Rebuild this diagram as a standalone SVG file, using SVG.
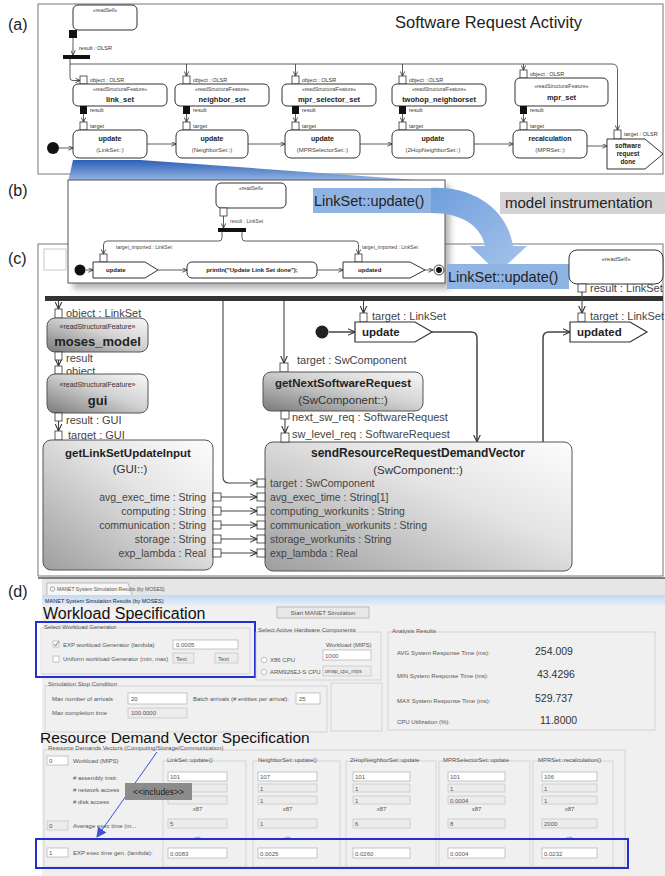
<svg xmlns="http://www.w3.org/2000/svg" width="665" height="876" viewBox="0 0 665 876">
<defs>
<style>
text{font-family:"Liberation Sans",Arial,sans-serif;fill:#222}
.pl{font-size:16px}
.s5{font-size:5px;fill:#444}
.s55{font-size:5.5px;fill:#333}
.b7{font-size:7px;font-weight:bold}
.s6{font-size:6px;fill:#444}
.c11{font-size:11px;fill:#444}
.cb{font-size:11.5px;font-weight:bold;fill:#222}
.cn{font-size:11.5px;fill:#333}
.pin{fill:#fff;stroke:#333;stroke-width:.8}
.pinb{fill:#111}
.nd{fill:#fff;stroke:#333;stroke-width:1}
.gn{fill:url(#gN);stroke:#555;stroke-width:1}
.fl{fill:none;stroke:#333;stroke-width:.8}
.fc{fill:none;stroke:#444;stroke-width:1.1}
.t6{font-size:6px;fill:#555}
.fw{fill:#fff;stroke:#b0b0b0;stroke-width:.7}
.fg{fill:#ececec;stroke:#c4c4c4;stroke-width:.7}
.gb{fill:none;stroke:#cdcdcd;stroke-width:.8}
.mid{text-anchor:middle}
.end{text-anchor:end}
</style>
<marker id="as" viewBox="0 0 6 6" refX="5.5" refY="3" markerWidth="5" markerHeight="5" orient="auto" markerUnits="userSpaceOnUse"><path d="M0,0.3 L5.6,3 L0,5.7" fill="none" stroke="#333" stroke-width="1"/></marker>
<marker id="av" viewBox="0 0 8 8" refX="7.5" refY="4" markerWidth="8" markerHeight="8" orient="auto" markerUnits="userSpaceOnUse"><path d="M0,0.5 L7.5,4 L0,7.5" fill="none" stroke="#333" stroke-width="1.1"/></marker>
<marker id="ab" viewBox="0 0 10 10" refX="9" refY="5" markerWidth="10" markerHeight="10" orient="auto" markerUnits="userSpaceOnUse"><path d="M0,0 L10,5 L0,10 Z" fill="#3f4fd6"/></marker>
<linearGradient id="gN" x1="0" y1="1" x2="1" y2="0"><stop offset="0" stop-color="#7a7a7a"/><stop offset="0.55" stop-color="#d2d2d2"/><stop offset="1" stop-color="#f8f8f8"/></linearGradient>
<linearGradient id="gS" x1="0" y1="1" x2="1" y2="0"><stop offset="0" stop-color="#9e9e9e"/><stop offset="0.6" stop-color="#e4e4e4"/><stop offset="1" stop-color="#fdfdfd"/></linearGradient>
<linearGradient id="gW" x1="0" y1="0" x2="0" y2="1"><stop offset="0" stop-color="#2b5fb5"/><stop offset="1" stop-color="#9dbbe6"/></linearGradient>
<linearGradient id="gA" x1="0" y1="0" x2="1" y2="1"><stop offset="0" stop-color="#6f9fdc"/><stop offset="1" stop-color="#a7c4ec"/></linearGradient>
<linearGradient id="gT" x1="0" y1="0" x2="0" y2="1"><stop offset="0" stop-color="#c3d9f0"/><stop offset="1" stop-color="#e6f0fa"/></linearGradient>
<filter id="sh" x="-10%" y="-10%" width="130%" height="140%"><feGaussianBlur stdDeviation="3"/></filter>
</defs>

<rect width="665" height="876" fill="#fff"/>

<!-- panel labels -->
<text class="pl" x="8" y="30">(a)</text>
<text class="pl" x="8" y="196">(b)</text>
<text class="pl" x="8" y="264">(c)</text>
<text class="pl" x="8" y="597">(d)</text>

<!-- ============ (a) ============ -->
<g id="a-frame">
<rect x="38" y="4" width="625" height="170" fill="#fff" stroke="#777" stroke-width="1"/>
<text x="395" y="28" style="font-size:16.5px">Software Request Activity</text>
</g>

<g id="a-connectors">
<path class="fl" d="M73,38 V55" marker-end="url(#as)"/>
<path class="fl" d="M70,59 V78 Q70,80.5 73,80.5 H80" marker-end="url(#as)"/>
<path class="fl" d="M70,64 H612 Q617.5,64 617.5,69.5 V130" marker-end="url(#as)"/>
<path class="fl" d="M186.5,64 V76" marker-end="url(#as)"/>
<path class="fl" d="M295.5,64 V76" marker-end="url(#as)"/>
<path class="fl" d="M402.5,64 V76" marker-end="url(#as)"/>
<path class="fl" d="M523.5,64 V70" marker-end="url(#as)"/>
<path class="fl" d="M83.5,114 V122" marker-end="url(#as)"/>
<path class="fl" d="M186.5,114 V122" marker-end="url(#as)"/>
<path class="fl" d="M295.5,114 V122" marker-end="url(#as)"/>
<path class="fl" d="M402.5,114 V122" marker-end="url(#as)"/>
<path class="fl" d="M523.5,114 V122" marker-end="url(#as)"/>
<path class="fl" d="M59,148 H73" marker-end="url(#as)"/>
<path class="fl" d="M147,144 H176" marker-end="url(#as)"/>
<path class="fl" d="M248,144 H285" marker-end="url(#as)"/>
<path class="fl" d="M360,144 H392" marker-end="url(#as)"/>
<path class="fl" d="M474,144 H513" marker-end="url(#as)"/>
<path class="fl" d="M587,146 H607" marker-end="url(#as)"/>
</g>

<g id="a-readSelf">
<rect class="nd" x="73" y="5" width="64" height="25" rx="5"/>
<text class="s5 mid" x="105" y="12">«readSelf»</text>
<rect class="pinb" x="69" y="30" width="8" height="8"/>
<text class="s55" x="79" y="50">result : OLSR</text>
<rect x="63" y="55" width="27" height="4" fill="#111"/>
</g>

<g id="a-link_set">
<rect class="pin" x="80" y="76" width="7" height="8"/><text class="s55" x="90" y="82">object : OLSR</text>
<rect class="nd" x="73" y="84" width="94" height="22" rx="5"/>
<text class="s5 mid" x="120" y="91">«readStructuralFeature»</text>
<text class="b7 mid" x="120" y="102" style="font-size:7.5px">link_set</text>
<rect class="pinb" x="80" y="106" width="7" height="8"/><text class="s55" x="90" y="112">result</text>
</g>
<g id="a-neighbor_set">
<rect class="pin" x="183" y="76" width="7" height="8"/><text class="s55" x="193" y="82">object : OLSR</text>
<rect class="nd" x="175" y="84" width="94" height="22" rx="5"/>
<text class="s5 mid" x="222" y="91">«readStructuralFeature»</text>
<text class="b7 mid" x="222" y="102" style="font-size:7.5px">neighbor_set</text>
<rect class="pinb" x="183" y="106" width="7" height="8"/><text class="s55" x="193" y="112">result</text>
</g>
<g id="a-mpr_selector_set">
<rect class="pin" x="292" y="76" width="7" height="8"/><text class="s55" x="302" y="82">object : OLSR</text>
<rect class="nd" x="282" y="84" width="94" height="22" rx="5"/>
<text class="s5 mid" x="329" y="91">«readStructuralFeature»</text>
<text class="b7 mid" x="329" y="102" style="font-size:7.5px">mpr_selector_set</text>
<rect class="pinb" x="292" y="106" width="7" height="8"/><text class="s55" x="302" y="112">result</text>
</g>
<g id="a-twohop_neighborset">
<rect class="pin" x="399" y="76" width="7" height="8"/><text class="s55" x="409" y="82">object : OLSR</text>
<rect class="nd" x="392" y="84" width="94" height="22" rx="5"/>
<text class="s5 mid" x="439" y="91">«readStructuralFeature»</text>
<text class="b7 mid" x="439" y="102" style="font-size:7.5px">twohop_neighborset</text>
<rect class="pinb" x="399" y="106" width="7" height="8"/><text class="s55" x="409" y="112">result</text>
</g>
<g id="a-mpr_set">
<rect class="pin" x="520" y="70" width="7" height="8"/><text class="s55" x="530" y="76">object : OLSR</text>
<rect class="nd" x="515" y="78" width="93" height="28" rx="5"/>
<text class="s5 mid" x="561.5" y="88">«readStructuralFeature»</text>
<text class="b7 mid" x="561.5" y="100" style="font-size:7.5px">mpr_set</text>
<rect class="pinb" x="520" y="106" width="7" height="8"/><text class="s55" x="530" y="112">result</text>
</g>

<circle cx="53" cy="148" r="6" fill="#111"/>
<g id="a-update-linkset">
<rect class="pin" x="80" y="122" width="7" height="8"/><text class="s55" x="90" y="128">target</text>
<rect class="nd" x="73" y="130" width="74" height="28" rx="6"/>
<text class="b7 mid" x="110" y="141">update</text><text class="s6 mid" x="110" y="152">(LinkSet::)</text>
</g>
<g id="a-update-neighborset">
<rect class="pin" x="183" y="122" width="7" height="8"/><text class="s55" x="193" y="128">target</text>
<rect class="nd" x="176" y="130" width="72" height="28" rx="6"/>
<text class="b7 mid" x="212" y="141">update</text><text class="s6 mid" x="212" y="152">(NeighborSet::)</text>
</g>
<g id="a-update-mprselectorset">
<rect class="pin" x="292" y="122" width="7" height="8"/><text class="s55" x="302" y="128">target</text>
<rect class="nd" x="285" y="130" width="75" height="28" rx="6"/>
<text class="b7 mid" x="322.5" y="141">update</text><text class="s6 mid" x="322.5" y="152">(MPRSelectorSet::)</text>
</g>
<g id="a-update-2hop">
<rect class="pin" x="399" y="122" width="7" height="8"/><text class="s55" x="409" y="128">target</text>
<rect class="nd" x="392" y="130" width="82" height="28" rx="6"/>
<text class="b7 mid" x="433" y="141">update</text><text class="s6 mid" x="433" y="152">(2HopNeighborSet::)</text>
</g>
<g id="a-recalculation">
<rect class="pin" x="520" y="122" width="7" height="8"/><text class="s55" x="530" y="128">target</text>
<rect class="nd" x="513" y="130" width="74" height="28" rx="6"/>
<text class="b7 mid" x="550" y="141">recalculation</text><text class="s6 mid" x="550" y="152">(MPRSet::)</text>
</g>
<g id="a-software-request-done">
<rect class="pin" x="614" y="130" width="7" height="9"/><text class="s55" x="624" y="136">target : OLSR</text>
<path class="nd" d="M607,139 H645 L663,154 L645,169 H607 Z"/>
<text class="b7 mid" x="628" y="148" style="font-size:6.3px">software</text>
<text class="b7 mid" x="628" y="156" style="font-size:6.3px">request</text>
<text class="b7 mid" x="628" y="164" style="font-size:6.3px">done</text>
</g>

<!-- ============ (c) frame ============ -->
<g id="c-frame">
<rect x="38" y="244" width="625" height="332" fill="#fff" stroke="#777" stroke-width="1"/>
<rect x="44" y="249" width="22" height="21" fill="#fff" stroke="#bbb" stroke-width=".8"/>
</g>

<!-- ============ (b) ============ -->
<polygon points="73,160 140,160 445,182 68,182" fill="url(#gW)"/>
<g id="b-box">
<rect x="73" y="186" width="377" height="103" fill="#777" opacity=".55" filter="url(#sh)"/>
<rect x="68" y="180" width="377" height="103" fill="#fff" stroke="#555" stroke-width="1"/>
</g>
<g id="b-connectors">
<path class="fl" d="M223.5,216 V228" marker-end="url(#as)"/>
<path class="fl" d="M222,232 V238 Q222,241 219,241 H107 Q103.5,241 103.5,245 V254" marker-end="url(#as)"/>
<path class="fl" d="M242,232 V238 Q242,241 245,241 H355 Q358.5,241 358.5,245 V254" marker-end="url(#as)"/>
<path class="fl" d="M86,270 H93" marker-end="url(#as)"/>
<path class="fl" d="M158,270 H187" marker-end="url(#as)"/>
<path class="fl" d="M317,270 H343" marker-end="url(#as)"/>
<path class="fl" d="M425,270 H433" marker-end="url(#as)"/>
</g>
<g id="b-readSelf">
<rect class="nd" x="216" y="183" width="70" height="25" rx="5"/>
<text class="s5 mid" x="251" y="190">«readSelf»</text>
<rect class="pin" x="220" y="208" width="7" height="8"/>
<text class="s5" x="230" y="223">result : LinkSet</text>
<rect x="218" y="228" width="28" height="4" fill="#111"/>
</g>
<circle cx="80" cy="270" r="5.5" fill="#111"/>
<g id="b-update">
<rect class="pin" x="100" y="254" width="7" height="8"/>
<text class="s5" x="116" y="249">target_imported : LinkSet</text>
<path class="nd" d="M93,262 H145 L158,270 L145,278 H93 Z"/>
<text class="b7" x="106" y="272" style="font-size:6px">update</text>
</g>
<g id="b-println">
<rect class="nd" x="187" y="262" width="130" height="16" rx="5"/>
<text class="b7 mid" x="252" y="272" style="font-size:6px">println("Update Link Set done");</text>
</g>
<g id="b-updated">
<rect class="pin" x="355" y="254" width="7" height="8"/>
<text class="s5" x="362" y="249">target_imported : LinkSet</text>
<path class="nd" d="M343,262 H410 L425,270 L410,278 H343 Z"/>
<text class="b7" x="358" y="272" style="font-size:6px">updated</text>
</g>
<g id="b-final">
<circle cx="439" cy="270" r="5" fill="#fff" stroke="#333" stroke-width=".9"/>
<circle cx="439" cy="270" r="3" fill="#111"/>
</g>

<!-- instrumentation arrow and labels -->
<g id="b-instrumentation">
<rect x="313" y="188" width="118" height="25" fill="#8fb4e3"/>
<text x="314" y="206" style="font-size:14.5px">LinkSet::update()</text>
<path d="M431,188 C472,186 507,208 513,246 L527,246 L498,273 L470,246 L485,246 C481,226 462,213 431,213 Z" fill="url(#gA)"/>
<rect x="500" y="192" width="165" height="22" fill="#d3d3d3"/>
<text x="505" y="208" style="font-size:15px">model instrumentation</text>
<rect x="447" y="264" width="122" height="25" fill="#8fb4e3"/>
<text x="448" y="282" style="font-size:14.5px">LinkSet::update()</text>
</g>

<!-- ============ (c) content ============ -->
<rect x="45" y="296" width="618" height="5" fill="#333"/>

<g id="c-connectors">
<path class="fc" d="M58.5,301 V309" marker-end="url(#av)"/>
<path class="fc" d="M58.5,360 V366" marker-end="url(#av)"/>
<path class="fc" d="M58.5,421 V431" marker-end="url(#av)"/>
<path class="fc" d="M223,301 V477 Q223,483 229,483 H257" marker-end="url(#av)"/>
<path class="fc" d="M284,301 V363" marker-end="url(#av)"/>
<path class="fc" d="M363.5,301 V313" marker-end="url(#av)"/>
<path class="fc" d="M582,292 V313" marker-end="url(#av)"/>
<path class="fc" d="M329,332 H355" marker-end="url(#av)" style="stroke-width:1.5"/>
<path class="fc" d="M432,332 H471 Q477,332 477,338 V442" marker-end="url(#av)" style="stroke-width:1.5"/>
<path class="fc" d="M543,442 V338 Q543,332 549,332 H570" marker-end="url(#av)" style="stroke-width:1.5"/>
<path class="fc" d="M285,419 V433" marker-end="url(#av)"/>
<path class="fc" d="M221,497 H257" marker-end="url(#av)"/>
<path class="fc" d="M221,511 H257" marker-end="url(#av)"/>
<path class="fc" d="M221,525 H257" marker-end="url(#av)"/>
<path class="fc" d="M221,539 H257" marker-end="url(#av)"/>
<path class="fc" d="M221,553 H257" marker-end="url(#av)"/>
</g>

<g id="c-readSelf">
<rect class="nd" x="569" y="250" width="94" height="34" rx="8"/>
<text class="s6 mid" x="616" y="261">«readSelf»</text>
<rect class="pin" x="578" y="284" width="8" height="8"/>
<text class="c11" x="590" y="292">result : LinkSet</text>
</g>

<g id="c-moses_model">
<rect class="pin" x="55" y="309" width="7" height="9"/>
<text class="c11" x="66" y="317">object : LinkSet</text>
<rect class="gn" x="47" y="318" width="101" height="34" rx="8"/>
<text class="mid" x="97.5" y="329" style="font-size:7px;fill:#333">«readStructuralFeature»</text>
<text class="mid" x="97.5" y="346" style="font-size:13px;font-weight:bold">moses_model</text>
<rect class="pin" x="55" y="352" width="7" height="8"/>
<text class="c11" x="66" y="362">result</text>
</g>
<g id="c-gui">
<rect class="pin" x="55" y="366" width="7" height="8"/>
<text class="c11" x="66" y="375">object</text>
<rect class="gn" x="47" y="374" width="101" height="39" rx="8"/>
<text class="mid" x="97.5" y="387" style="font-size:7px;fill:#333">«readStructuralFeature»</text>
<text class="mid" x="97.5" y="405" style="font-size:13px;font-weight:bold">gui</text>
<rect class="pin" x="55" y="413" width="7" height="8"/>
<text class="c11" x="66" y="424">result : GUI</text>
</g>
<g id="c-getLinkSetUpdateInput">
<rect class="pin" x="55" y="431" width="7" height="9"/>
<text class="c11" x="68" y="439">target : GUI</text>
<rect x="43" y="440" width="170" height="130" rx="8" fill="url(#gS)" stroke="#555" stroke-width="1"/>
<text class="cb mid" x="128" y="457">getLinkSetUpdateInput</text>
<text class="cn mid" x="130" y="473">(GUI::)</text>
<text class="c11 end" x="206" y="501" style="font-size:10.5px">avg_exec_time : String</text>
<text class="c11 end" x="206" y="515" style="font-size:10.5px">computing : String</text>
<text class="c11 end" x="206" y="529" style="font-size:10.5px">communication : String</text>
<text class="c11 end" x="206" y="543" style="font-size:10.5px">storage : String</text>
<text class="c11 end" x="206" y="557" style="font-size:10.5px">exp_lambda : Real</text>
<rect class="pin" x="213" y="493" width="8" height="8"/>
<rect class="pin" x="213" y="507" width="8" height="8"/>
<rect class="pin" x="213" y="521" width="8" height="8"/>
<rect class="pin" x="213" y="535" width="8" height="8"/>
<rect class="pin" x="213" y="549" width="8" height="8"/>
</g>

<circle cx="322" cy="332" r="6.5" fill="#222"/>
<g id="c-update">
<rect class="pin" x="360" y="313" width="7" height="9"/>
<text class="c11" x="372" y="320">target : LinkSet</text>
<path d="M355,322 H415 L432,332 L415,342 H355 Z" fill="#fff" stroke="#333" stroke-width="1.2"/>
<text class="cb" x="362" y="336">update</text>
</g>
<g id="c-updated">
<rect class="pin" x="578" y="313" width="7" height="9"/>
<text class="c11" x="590" y="320">target : LinkSet</text>
<path d="M570,322 H630 L647,332 L630,342 H570 Z" fill="#fff" stroke="#333" stroke-width="1.2"/>
<text class="cb" x="577" y="336">updated</text>
</g>
<g id="c-getNextSoftwareRequest">
<rect class="pin" x="280" y="363" width="8" height="9"/>
<text class="c11" x="297" y="364">target : SwComponent</text>
<rect class="gn" x="263" y="372" width="160" height="39" rx="8"/>
<text class="cb mid" x="343" y="387">getNextSoftwareRequest</text>
<text class="cn mid" x="343" y="404">(SwComponent::)</text>
<rect class="pin" x="281" y="411" width="8" height="8"/>
<text class="c11" x="292" y="421">next_sw_req : SoftwareRequest</text>
</g>
<g id="c-sendResourceRequestDemandVector">
<rect x="265" y="442" width="307" height="129" rx="8" fill="url(#gS)" stroke="#555" stroke-width="1"/>
<rect class="pin" x="281" y="433" width="8" height="9"/>
<text class="c11" x="292" y="438">sw_level_req : SoftwareRequest</text>
<text class="cb mid" x="418" y="457" style="font-size:12px">sendResourceRequestDemandVector</text>
<text class="cn mid" x="418" y="474">(SwComponent::)</text>
<rect class="pin" x="257" y="479" width="8" height="8"/>
<rect class="pin" x="257" y="493" width="8" height="8"/>
<rect class="pin" x="257" y="507" width="8" height="8"/>
<rect class="pin" x="257" y="521" width="8" height="8"/>
<rect class="pin" x="257" y="535" width="8" height="8"/>
<rect class="pin" x="257" y="549" width="8" height="8"/>
<text class="c11" x="270" y="487" style="font-size:10.5px">target : SwComponent</text>
<text class="c11" x="270" y="501" style="font-size:10.5px">avg_exec_time : String[1]</text>
<text class="c11" x="270" y="515" style="font-size:10.5px">computing_workunits : String</text>
<text class="c11" x="270" y="529" style="font-size:10.5px">communication_workunits : String</text>
<text class="c11" x="270" y="543" style="font-size:10.5px">storage_workunits : String</text>
<text class="c11" x="270" y="557" style="font-size:10.5px">exp_lambda : Real</text>
</g>

<!-- ============ (d) ============ -->
<g id="d-window">
<rect x="42" y="578" width="623" height="298" fill="#f0f0f0"/>
<rect x="42" y="579" width="623" height="16" fill="#e6e6e6"/>
<line x1="38" y1="578" x2="665" y2="578" stroke="#555" stroke-width="1.4"/>
<path d="M47,595 V583 H128 L132,595" fill="#f6f6f6" stroke="#999" stroke-width=".6"/>
<circle cx="52.5" cy="589" r="2.2" fill="none" stroke="#777" stroke-width=".6"/>
<text x="57" y="591" style="font-size:5px;fill:#555">MANET System Simulation Results (by MOSES)</text>
<rect x="42" y="595" width="623" height="11" fill="url(#gT)"/>
<text x="45" y="603" style="font-size:5.5px;fill:#223">MANET System Simulation Results (by MOSES)</text>
<text x="43" y="619" style="font-size:16px;fill:#111">Workload Specification</text>
<rect x="277" y="607" width="92" height="11" fill="#e8e8e8" stroke="#999" stroke-width=".6"/>
<text class="t6 mid" x="323" y="614.5">Start MANET Simulation</text>
</g>

<g id="d-workload">
<rect class="gb" x="41" y="628" width="209" height="46"/>
<text class="t6" x="44" y="629">Select Workload Generator</text>
<rect class="fw" x="53" y="641" width="6" height="6"/>
<path d="M54,644 L55.7,646 L58.5,641.5" fill="none" stroke="#444" stroke-width=".7"/>
<text class="t6" x="63" y="646.5">EXP workload Generator (lambda)</text>
<rect class="fw" x="173" y="640" width="65" height="9"/>
<text class="t6" x="176" y="647">0.0005</text>
<rect class="fw" x="53" y="656" width="6" height="6"/>
<text class="t6" x="63" y="661">Uniform workload Generator (min, max)</text>
<rect class="fg" x="173" y="653" width="21" height="10"/>
<text class="t6" x="176" y="660.5">Text</text>
<rect class="fg" x="215" y="653" width="23" height="10"/>
<text class="t6" x="218" y="660.5">Text</text>
<rect x="36" y="622" width="219" height="55" fill="none" stroke="#2130cf" stroke-width="2"/>
</g>

<g id="d-hardware">
<rect class="gb" x="256" y="632" width="125" height="48"/>
<text class="t6" x="258" y="632">Select Active Hardware Components</text>
<text class="t6" x="326" y="647">Workload (MIPS)</text>
<rect class="fw" x="323" y="650" width="48" height="10"/>
<text class="t6" x="325" y="657.5">1000</text>
<circle cx="264" cy="660" r="2.8" fill="#fff" stroke="#999" stroke-width=".6"/>
<text class="t6" x="270" y="662">X86 CPU</text>
<circle cx="264" cy="672" r="2.8" fill="#fff" stroke="#999" stroke-width=".6"/>
<text class="t6" x="270" y="674">ARM926EJ-S CPU</text>
<rect class="fg" x="323" y="666" width="48" height="10"/>
<text class="t6" x="325" y="673" style="font-size:5px">omap_cpu_mips</text>
</g>

<g id="d-analysis">
<rect class="gb" x="388" y="632" width="267" height="98"/>
<text class="t6" x="392" y="633">Analysis Results</text>
<text class="t6" x="397" y="655">AVG System Response Time (ms):</text>
<text x="535" y="655" style="font-size:10.5px;fill:#333">254.009</text>
<text class="t6" x="397" y="678">MIN System Response Time (ms):</text>
<text x="537" y="678" style="font-size:10.5px;fill:#333">43.4296</text>
<text class="t6" x="397" y="703">MAX System Response Time (ms):</text>
<text x="535" y="702" style="font-size:10.5px;fill:#333">529.737</text>
<text class="t6" x="397" y="724">CPU Utilization (%):</text>
<text x="540" y="724" style="font-size:10.5px;fill:#333">11.8000</text>
</g>

<g id="d-stop">
<rect class="gb" x="45" y="686" width="282" height="46"/>
<text class="t6" x="48" y="686">Simulation Stop Condition</text>
<text class="t6" x="52" y="701">Max number of arrivals</text>
<rect class="fw" x="128" y="693" width="59" height="11"/>
<text class="t6" x="131" y="700.5">20</text>
<text class="t6" x="193" y="701">Batch arrivals (# entities per arrival):</text>
<rect class="fw" x="296" y="693" width="24" height="11"/>
<text class="t6" x="299" y="700.5">25</text>
<text class="t6" x="52" y="715">Max completion time</text>
<rect class="fg" x="128" y="708" width="59" height="10"/>
<text class="t6" x="131" y="715">100.0000</text>
<rect class="gb" x="331" y="683" width="51" height="48"/>
</g>

<g id="d-rdv">
<text x="40" y="743" style="font-size:15.5px;fill:#111">Resource Demand Vector Specification</text>
<rect class="gb" x="44" y="750" width="581" height="117"/>
<text class="t6" x="48" y="750">Resource Demands Vectors (Computing/Storage/Communication)</text>
<rect class="fw" x="47" y="756" width="21" height="9"/><text class="t6" x="49" y="763">0</text>
<text class="t6" x="73" y="763">Workload (MIPS)</text>
<text class="t6" x="73" y="780">&#35; assembly instr.</text>
<text class="t6" x="73" y="792">&#35; network access</text>
<text class="t6" x="73" y="804">&#35; disk access</text>
<rect class="fg" x="47" y="821" width="21" height="9"/><text class="t6" x="49" y="828">0</text>
<text class="t6" x="73" y="828">Average exec time (m...</text>
<rect class="fw" x="47" y="848" width="21" height="9"/><text class="t6" x="49" y="855">1</text>
<text class="t6" x="73" y="855">EXP exec time gen. (lambda):</text>
</g>

<g id="d-col1">
<rect class="gb" x="163" y="761" width="83" height="106"/>
<text class="t6" x="167" y="762">LinkSet::update()</text>
<rect class="fw" x="168" y="772" width="59" height="9"/><text class="t6" x="170" y="779">101</text>
<rect class="fg" x="168" y="784" width="59" height="8"/>
<rect class="fg" x="168" y="796" width="59" height="8"/>
<text class="t6 mid" x="197.5" y="811">x87</text>
<rect class="fg" x="168" y="819" width="59" height="9"/><text class="t6" x="170" y="826">5</text>
<text class="t6 mid" x="197.5" y="840" style="font-size:5px">x/s</text>
<rect class="fw" x="168" y="848" width="59" height="10"/><text class="t6" x="170" y="855.5">0.0083</text>
</g>
<g id="d-col2">
<rect class="gb" x="253" y="761" width="87" height="106"/>
<text class="t6" x="258" y="762">NeighborSet::update()</text>
<rect class="fw" x="258" y="772" width="59" height="9"/><text class="t6" x="260" y="779">107</text>
<rect class="fg" x="258" y="784" width="59" height="8"/><text class="t6" x="260" y="790.5">1</text>
<rect class="fg" x="258" y="796" width="59" height="8"/><text class="t6" x="260" y="802.5">1</text>
<text class="t6 mid" x="287.5" y="811">x87</text>
<rect class="fg" x="258" y="819" width="59" height="9"/><text class="t6" x="260" y="826">1</text>
<text class="t6 mid" x="287.5" y="840" style="font-size:5px">x/s</text>
<rect class="fw" x="258" y="848" width="59" height="10"/><text class="t6" x="260" y="855.5">0.0025</text>
</g>
<g id="d-col3">
<rect class="gb" x="346" y="761" width="90" height="106"/>
<text class="t6" x="350" y="762">2HopNeighborSet::update</text>
<rect class="fw" x="353" y="772" width="57" height="9"/><text class="t6" x="355" y="779">101</text>
<rect class="fg" x="353" y="784" width="57" height="8"/><text class="t6" x="355" y="790.5">1</text>
<rect class="fg" x="353" y="796" width="57" height="8"/><text class="t6" x="355" y="802.5">1</text>
<text class="t6 mid" x="381.5" y="811">x87</text>
<rect class="fg" x="353" y="819" width="57" height="9"/><text class="t6" x="355" y="826">6</text>
<rect class="fw" x="353" y="848" width="57" height="10"/><text class="t6" x="355" y="855.5">0.0260</text>
</g>
<g id="d-col4">
<rect class="gb" x="439" y="761" width="91" height="106"/>
<text class="t6" x="443" y="762">MPRSelectorSet::update</text>
<rect class="fw" x="448" y="772" width="57" height="9"/><text class="t6" x="450" y="779">101</text>
<rect class="fg" x="448" y="784" width="57" height="8"/><text class="t6" x="450" y="790.5">1</text>
<rect class="fg" x="448" y="796" width="57" height="8"/><text class="t6" x="450" y="802.5">0.0004</text>
<text class="t6 mid" x="476.5" y="811">x87</text>
<rect class="fg" x="448" y="819" width="57" height="9"/><text class="t6" x="450" y="826">8</text>
<rect class="fw" x="448" y="848" width="57" height="10"/><text class="t6" x="450" y="855.5">0.0004</text>
</g>
<g id="d-col5">
<rect class="gb" x="533" y="761" width="80" height="106"/>
<text class="t6" x="538" y="762">MPRSet::recalculation()</text>
<rect class="fw" x="542" y="772" width="55" height="9"/><text class="t6" x="544" y="779">106</text>
<rect class="fg" x="542" y="784" width="55" height="8"/><text class="t6" x="544" y="790.5">1</text>
<rect class="fg" x="542" y="796" width="55" height="8"/><text class="t6" x="544" y="802.5">1</text>
<text class="t6 mid" x="569.5" y="811">x87</text>
<rect class="fg" x="542" y="819" width="55" height="9"/><text class="t6" x="544" y="826">2000</text>
<text class="t6 mid" x="569.5" y="840" style="font-size:5px">x/s</text>
<rect class="fw" x="542" y="848" width="55" height="10"/><text class="t6" x="544" y="855.5">0.0232</text>
</g>

<g id="d-includes">
<line x1="157" y1="752" x2="97" y2="837" stroke="#3f4fd6" stroke-width="1" marker-end="url(#ab)"/>
<rect x="125" y="783" width="67" height="17" fill="#8c8c8c"/>
<text class="mid" x="158.5" y="794.5" style="font-size:8.5px;fill:#222">&lt;&lt;includes&gt;&gt;</text>
<rect x="36" y="839" width="592" height="29" fill="none" stroke="#2130cf" stroke-width="2"/>
</g>
</svg>
